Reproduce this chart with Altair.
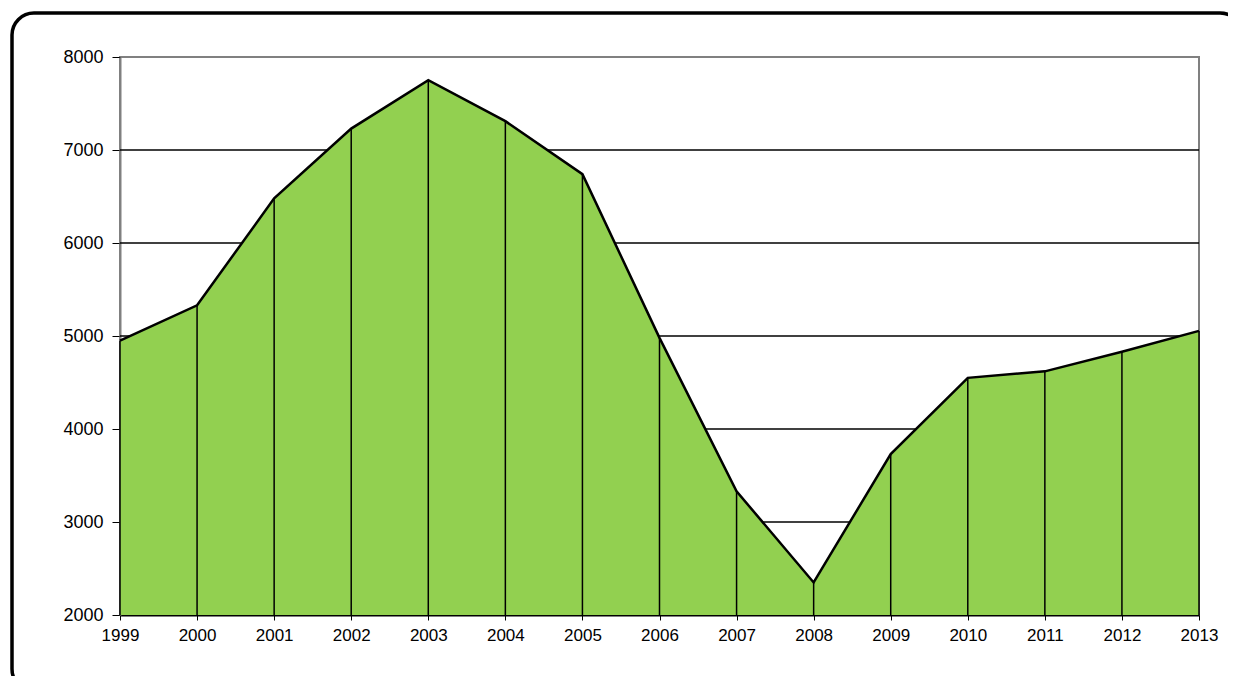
import altair as alt
import pandas as pd

years = [1999, 2000, 2001, 2002, 2003, 2004, 2005, 2006, 2007, 2008, 2009, 2010, 2011, 2012, 2013]
values = [4950, 5330, 6480, 7230, 7750, 7310, 6740, 4980, 3330, 2350, 3730, 4550, 4620, 4830, 5055]
base_value = 2000
y_ticks = [2000, 3000, 4000, 5000, 6000, 7000, 8000]
grid_values = [3000, 4000, 5000, 6000, 7000]

df = pd.DataFrame({"year": years, "value": values})

x_scale = alt.Scale(domain=[years[0], years[-1]], nice=False, zero=False)
y_scale = alt.Scale(domain=[y_ticks[0], y_ticks[-1]], nice=False, zero=False)

x_axis = alt.Axis(values=years, format="d", title=None, grid=False,
                  domainColor="black", domainWidth=2, tickColor="black",
                  tickSize=5, labelPadding=7, labelFontSize=17,
                  labelFont="Liberation Sans", labelColor="black",
                  labelFlush=False)
y_axis = alt.Axis(values=y_ticks, format="d", title=None, grid=False,
                  domainColor="#808080", domainWidth=2, tickColor="black",
                  tickSize=8, labelPadding=9, labelFontSize=18,
                  labelFont="Liberation Sans", labelColor="black")

grid = alt.Chart(pd.DataFrame({"g": grid_values})).mark_rule(
    color="black", strokeWidth=1.5
).encode(y=alt.Y("g:Q", scale=y_scale, axis=y_axis))

area = alt.Chart(df).mark_area(color="#92D050", opacity=1).encode(
    x=alt.X("year:Q", scale=x_scale, axis=x_axis),
    y=alt.Y("value:Q", scale=y_scale, axis=y_axis),
    y2=alt.datum(base_value)
)

drops = alt.Chart(df).mark_rule(color="black", strokeWidth=1.5).encode(
    x="year:Q", y="value:Q", y2=alt.datum(base_value)
)

line = alt.Chart(df).mark_line(color="black", strokeWidth=2.5).encode(
    x="year:Q", y="value:Q"
)

frame = alt.Chart(pd.DataFrame({"a": [0]})).mark_rect(
    fill=None, stroke="black", strokeWidth=3.5, cornerRadius=22
).encode(
    x=alt.value(-108), x2=alt.value(1122), y=alt.value(-44), y2=alt.value(634)
)

chart = alt.layer(grid, area, drops, line, frame).properties(
    width=1079, height=558,
    autosize=alt.AutoSizeParams(type="none"),
    padding={"left": 112, "top": 49, "right": 29, "bottom": 61},
    background="white",
).configure_view(stroke="#808080", strokeWidth=2)

chart.save("out.html", embed_options={"renderer": "svg", "actions": False})
